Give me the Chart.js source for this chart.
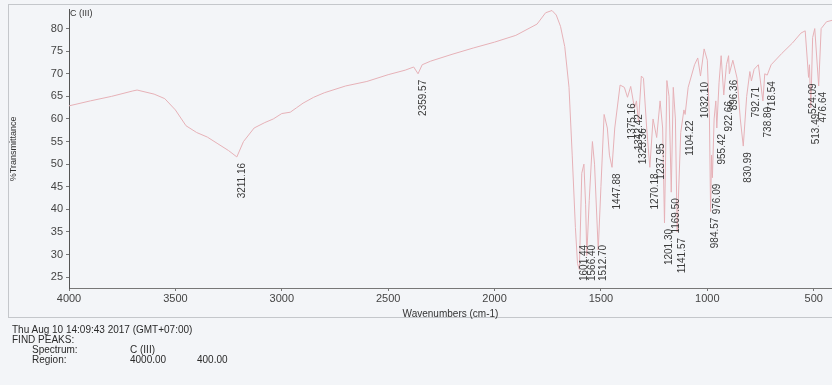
<!DOCTYPE html>
<html>
<head>
<meta charset="utf-8">
<script src="https://cdn.jsdelivr.net/npm/chart.js@4.4.1/dist/chart.umd.min.js"></script>
<style>
  html, body { margin:0; padding:0; background:#f3f5f8; }
  body { width:832px; height:385px; position:relative; overflow:hidden; font-family:"Liberation Sans", Arial, sans-serif; }
  #wrap { position:absolute; left:0; top:0; width:832px; height:385px; }
  #frame { position:absolute; left:8px; top:4px; width:840px; height:314px; border:1px solid #c4c7cb; box-sizing:border-box; }
  #title { position:absolute; left:70px; top:8px; font-size:9px; color:#333; }
  .ft { position:absolute; font-size:10px; color:#2a2a2a; white-space:pre; }
</style>
</head>
<body>
<div id="frame"></div>
<div id="wrap"><canvas id="c" width="832" height="385"></canvas></div>
<div id="title">C (III)</div>
<div class="ft" style="left:12px;top:324px;">Thu Aug 10 14:09:43 2017 (GMT+07:00)</div>
<div class="ft" style="left:12px;top:334px;">FIND PEAKS:</div>
<div class="ft" style="left:32px;top:344px;">Spectrum:</div>
<div class="ft" style="left:130px;top:344px;">C (III)</div>
<div class="ft" style="left:32px;top:354px;">Region:</div>
<div class="ft" style="left:130px;top:354px;">4000.00</div>
<div class="ft" style="left:197px;top:354px;">400.00</div>
<script>
// Spectrum: wavenumber (cm-1) and %Transmittance
const wavenumbers = [4000,3900,3800,3700,3680,3600,3550,3500,3450,3400,3350,3300,3250,3211.16,3180,3130,3080,3040,3000,2960,2930,2900,2850,2800,2700,2600,2500,2420,2380,2359.57,2340,2300,2200,2100,2000,1900,1800,1760,1730,1710,1690,1670,1650,1635,1620,1610,1601.44,1590,1580,1572,1566.40,1555,1540,1530,1512.70,1500,1485,1470,1460,1447.88,1435,1410,1390,1375.16,1360,1342.42,1333,1323.36,1310,1300,1285,1270.18,1255,1237.95,1222,1210,1201.30,1190,1180,1169.50,1160,1150,1141.57,1125,1110,1104.22,1090,1060,1045,1032.10,1015,1000,990,984.57,980,976.09,968,960,955.42,945,935,922.66,910,900,896.36,880,860,845,830.99,815,800,792.71,780,760,738.80,730,718.54,700,650,600,560,540,524.09,520,513.49,505,495,476.64,465,440,400];
const transmittance = [62.9,64.0,65.0,66.2,66.4,65.5,64.5,62.0,58.5,57.0,56.0,54.5,53.0,51.6,55.0,58.0,59.2,60.0,61.2,61.5,62.5,63.5,64.8,65.8,67.3,68.3,69.8,70.8,71.5,70.0,72.0,72.8,74.3,75.7,77.0,78.5,81.0,83.5,84.0,83.0,80.5,76.0,67.0,52.0,36.0,28.0,26.7,48.0,50.0,41.0,29.8,42.0,55.0,50.0,31.0,45.0,61.0,58.0,52.0,49.3,58.0,67.5,67.0,64.8,67.2,62.4,64.0,59.3,69.5,69.0,58.0,49.3,60.0,55.9,64.0,58.0,37.0,68.5,65.0,43.8,67.0,60.0,35.0,57.0,62.0,61.0,67.0,72.0,73.5,69.5,75.5,73.0,60.0,39.5,52.0,47.0,60.0,64.0,58.0,68.0,74.0,65.3,72.0,74.0,70.0,73.0,69.0,60.0,54.0,65.0,70.5,68.4,71.0,72.0,64.0,70.0,69.7,72.0,74.5,76.8,79.0,79.5,69.2,72.0,62.5,78.0,80.0,67.3,80.0,81.5,82.0];
const peakWavenumbers = [3211.16,2359.57,1601.44,1566.40,1512.70,1447.88,1375.16,1342.42,1323.36,1270.18,1237.95,1201.30,1169.50,1141.57,1104.22,1032.10,984.57,976.09,955.42,922.66,896.36,830.99,792.71,738.80,718.54,524.09,513.49,476.64];
const peakLabels = ["3211.16","2359.57","1601.44","1566.40","1512.70","1447.88","1375.16","1342.42","1323.36","1270.18","1237.95","1201.30","1169.50","1141.57","1104.22","1032.10","984.57","976.09","955.42","922.66","896.36","830.99","792.71","738.80","718.54","524.09","513.49","476.64"];
const xTickValues = [4000,3500,3000,2500,2000,1500,1000,500];
const yTickValues = [25,30,35,40,45,50,55,60,65,70,75,80];

const points = wavenumbers.map((w, i) => ({x: w, y: transmittance[i]}));

const peakLabelPlugin = {
  id: 'peakLabels',
  afterDatasetsDraw(chart) {
    const ctx = chart.ctx, xs = chart.scales.x, ys = chart.scales.y;
    ctx.save();
    ctx.font = '10px "Liberation Sans", Arial, sans-serif';
    ctx.fillStyle = '#3a3a3a';
    ctx.textAlign = 'right';
    ctx.textBaseline = 'middle';
    peakWavenumbers.forEach((w, k) => {
      const idx = wavenumbers.indexOf(w);
      const t = transmittance[idx];
      const px = xs.getPixelForValue(w) + 5;
      let start = ys.getPixelForValue(t) + 6;
      const wd = ctx.measureText(peakLabels[k]).width;
      const limit = chart.chartArea.bottom - 7;
      if (start + wd > limit) start = limit - wd;
      ctx.save();
      ctx.translate(px, start);
      ctx.rotate(-Math.PI / 2);
      ctx.fillText(peakLabels[k], 0, 0);
      ctx.restore();
    });
    ctx.restore();
  }
};

new Chart(document.getElementById('c'), {
  type: 'scatter',
  data: { datasets: [{
    data: points,
    showLine: true,
    borderColor: '#e6b1b7',
    borderWidth: 1,
    pointRadius: 0,
    tension: 0,
    fill: false
  }]},
  options: {
    responsive: false,
    animation: false,
    layout: { padding: { left: 8, top: 8, right: 0, bottom: 65 } },
    plugins: { legend: { display: false }, tooltip: { enabled: false } },
    scales: {
      x: {
        type: 'linear', reverse: true, min: 414, max: 4000,
        afterBuildTicks: s => { s.ticks = xTickValues.map(v => ({value: v})); },
        afterFit: s => { s.height = 32; },
        border: { display: true, color: '#777', width: 1 },
        grid: { display: true, drawOnChartArea: false, drawTicks: true, tickLength: 3, color: '#777' },
        ticks: { color: '#444', font: { size: 11, family: '"Liberation Sans", Arial, sans-serif' }, padding: 1, maxRotation: 0, autoSkip: false,
                 callback: v => String(v) },
        title: { display: true, text: 'Wavenumbers (cm-1)', color: '#333', padding: { top: 0, bottom: 0 },
                 font: { size: 10, family: '"Liberation Sans", Arial, sans-serif' } }
      },
      y: {
        type: 'linear', min: 22.6, max: 84.2,
        afterBuildTicks: s => { s.ticks = yTickValues.map(v => ({value: v})); },
        afterFit: s => { s.width = 61; },
        border: { display: true, color: '#555', width: 1 },
        grid: { display: true, drawOnChartArea: false, drawTicks: true, tickLength: 3, color: '#777' },
        ticks: { color: '#444', font: { size: 11, family: '"Liberation Sans", Arial, sans-serif' }, padding: 3,
                 callback: v => String(v) },
        title: { display: true, text: '%Transmittance', color: '#333', padding: { top: 0, bottom: 2 },
                 font: { size: 9, family: '"Liberation Sans", Arial, sans-serif' } }
      }
    }
  },
  plugins: [peakLabelPlugin]
});
</script>
</body>
</html>
